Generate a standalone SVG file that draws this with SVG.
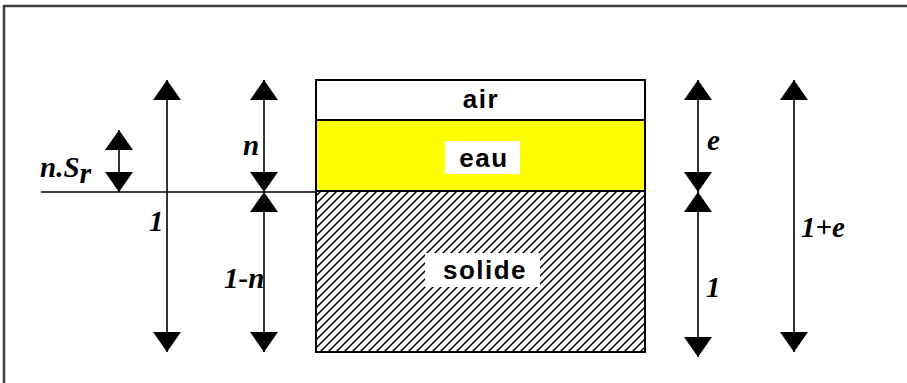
<svg xmlns="http://www.w3.org/2000/svg" width="907" height="383" viewBox="0 0 907 383">
<defs>
<pattern id="hatch" patternUnits="userSpaceOnUse" width="8" height="8">
<path d="M-2,10 L10,-2 M-2,2 L2,-2 M6,10 L10,6" stroke="#000" stroke-width="1.5"/>
</pattern>
<marker id="ah" viewBox="0 0 20 28" refX="20" refY="14" markerWidth="20" markerHeight="28" markerUnits="userSpaceOnUse" orient="auto-start-reverse">
<path d="M0,0 L20,14 L0,28 Z" fill="#000"/>
</marker>
<style>
.lbl{font-family:"Liberation Serif","Times New Roman",serif;font-weight:bold;font-style:italic;font-size:29px;fill:#000}
.mat{font-family:"Liberation Sans",Arial,sans-serif;font-weight:bold;font-size:26px;letter-spacing:1.5px;fill:#000;text-anchor:middle}
.dim{stroke:#000;stroke-width:1.6;fill:none;marker-start:url(#ah);marker-end:url(#ah)}
</style>
</defs>
<rect width="907" height="383" fill="#fff"/>
<path d="M3,6 H907 M4,5 V383" stroke="#404040" stroke-width="2.5" fill="none"/>
<g id="ground-line"><line x1="41" y1="192" x2="316" y2="192" stroke="#000" stroke-width="1.5"/></g>
<g id="air"><rect x="316" y="80" width="329" height="40" fill="#fff" stroke="#000" stroke-width="2"/><text class="mat" x="481" y="108">air</text></g>
<g id="eau"><rect x="316" y="120" width="329" height="71" fill="#ffff00" stroke="#000" stroke-width="2"/><rect x="445" y="141" width="75" height="33" fill="#fff"/><text class="mat" x="484" y="167">eau</text></g>
<g id="solide"><rect x="316" y="191" width="329" height="161" fill="#fff"/><rect x="316" y="191" width="329" height="161" fill="url(#hatch)" stroke="#000" stroke-width="2"/><rect x="425" y="253" width="115" height="34" fill="#fff"/><text class="mat" x="485" y="279">solide</text></g>
<g id="connectors">
<line class="dim" x1="119" y1="130" x2="119" y2="192"/>
<line class="dim" x1="167" y1="80" x2="167" y2="352"/>
<line class="dim" x1="264" y1="80" x2="264" y2="192"/>
<line class="dim" x1="264" y1="192" x2="264" y2="352"/>
<line class="dim" x1="698" y1="80" x2="698" y2="192"/>
<line class="dim" x1="698" y1="192" x2="698" y2="357"/>
<line class="dim" x1="794" y1="80" x2="794" y2="352"/>
</g>
<g id="labels">
<text class="lbl" x="40" y="177" font-size="32">n.S<tspan font-size="30" dy="6">r</tspan></text>
<text class="lbl" x="243" y="155">n</text>
<text class="lbl" x="149" y="231">1</text>
<text class="lbl" x="224" y="288">1-n</text>
<text class="lbl" x="707" y="150">e</text>
<text class="lbl" x="706" y="297">1</text>
<text class="lbl" x="801" y="237" font-size="30">1+e</text>
</g>
</svg>
